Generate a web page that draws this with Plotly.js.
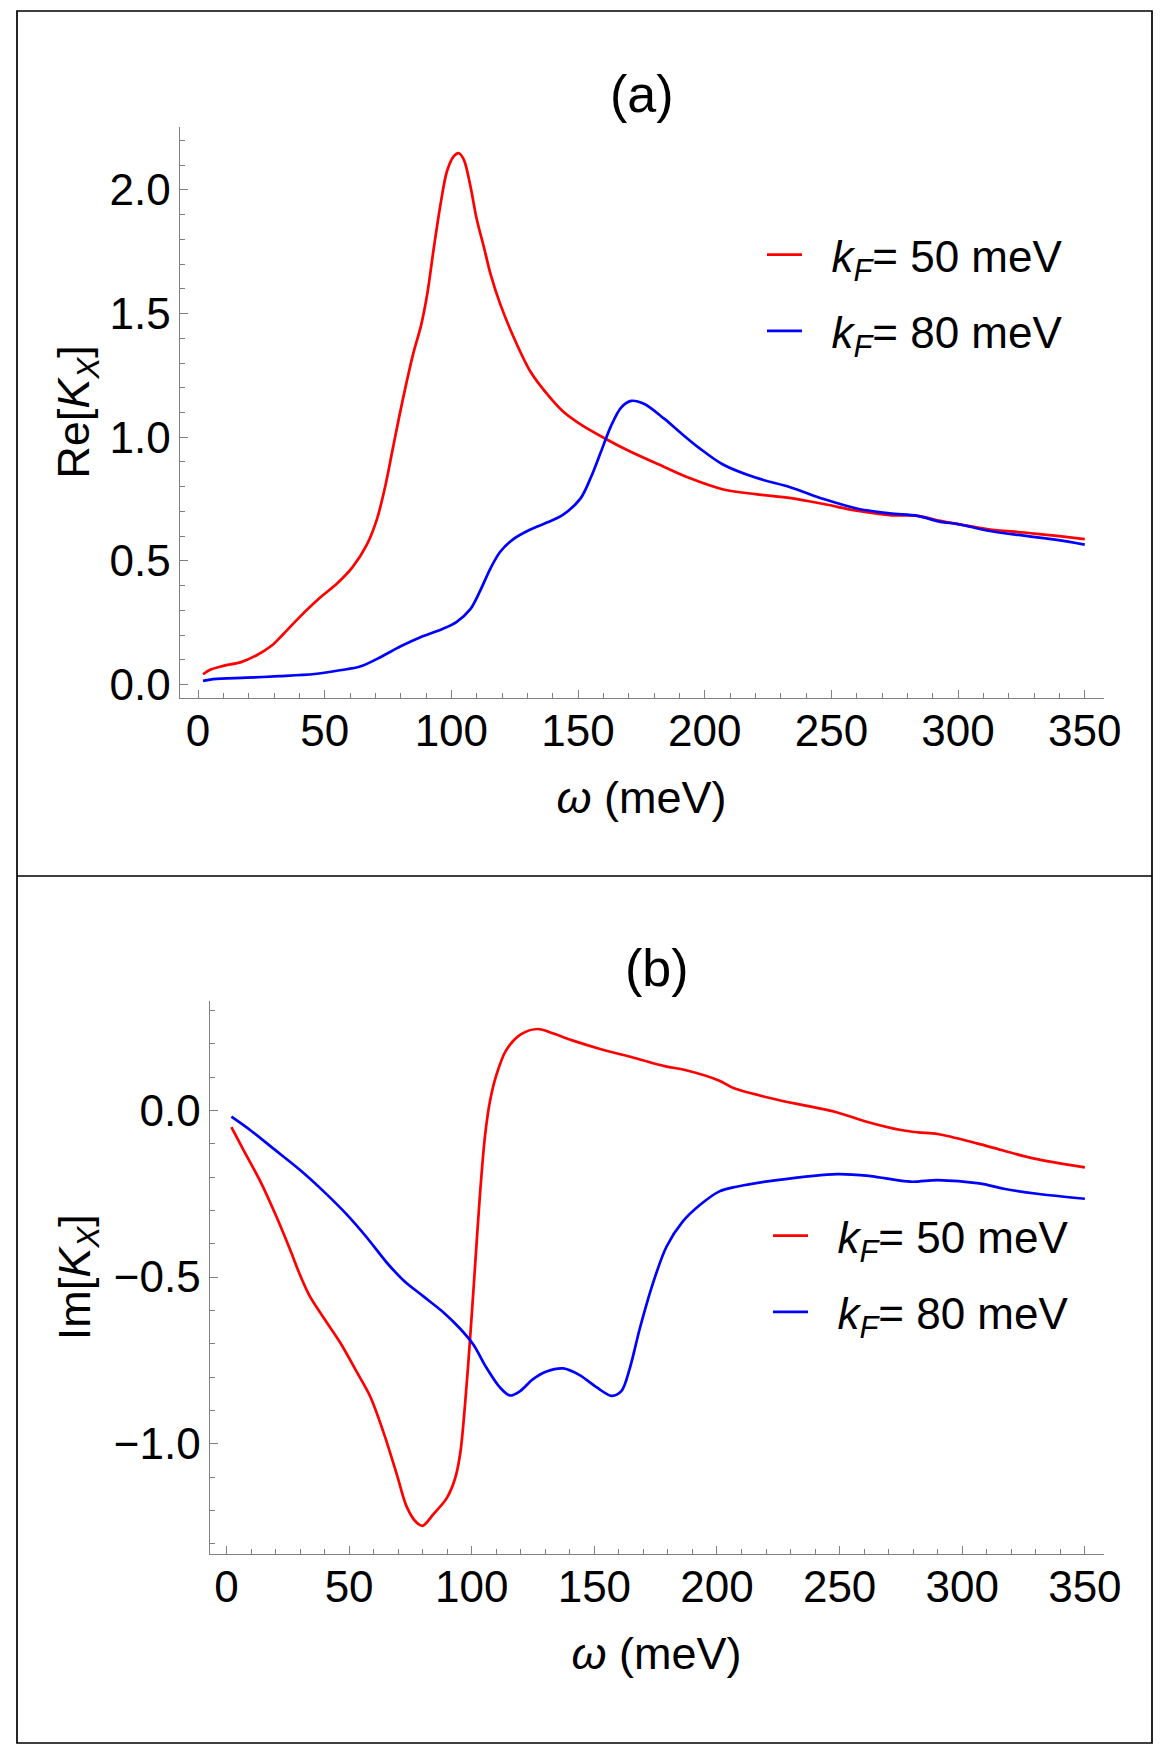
<!DOCTYPE html>
<html>
<head>
<meta charset="utf-8">
<script src="https://cdn.plot.ly/plotly-3.0.1.min.js"></script>
<style>
  html, body { margin: 0; padding: 0; background: #ffffff; }
  #plot { width: 1173px; height: 1757px; }
</style>
</head>
<body>
<div id="plot"></div>
<script>
// Re[K_X] versus ω for k_F = 50 meV
const omegaRe50 = [2, 5, 10, 17, 23, 29, 34, 40, 48, 55, 61, 66.7, 70.7, 74, 77, 81, 85, 88, 90.5, 93, 95.7, 98.3, 101, 103, 105, 107.5, 110, 113, 115.5, 119.3, 124.6, 131, 138, 144, 151, 161, 171, 184, 194, 207, 220, 234, 247, 260, 273, 284, 293, 300, 312, 326, 339, 350];
const re50 = [0.042, 0.061, 0.076, 0.091, 0.118, 0.157, 0.208, 0.272, 0.35, 0.41, 0.475, 0.567, 0.671, 0.806, 0.96, 1.16, 1.34, 1.45, 1.58, 1.76, 1.94, 2.076, 2.136, 2.148, 2.12, 2.016, 1.882, 1.762, 1.658, 1.538, 1.404, 1.269, 1.172, 1.105, 1.052, 0.993, 0.94, 0.88, 0.835, 0.79, 0.77, 0.754, 0.73, 0.703, 0.685, 0.682, 0.662, 0.649, 0.628, 0.615, 0.601, 0.588];

// Re[K_X] versus ω for k_F = 80 meV
const omegaRe80 = [2, 6, 19, 32, 46, 56, 64, 72, 80, 88, 96, 102, 107.5, 111.4, 115.4, 119.3, 124.6, 131, 138, 144, 151, 155, 159, 163, 167, 171, 176, 184, 190, 198, 207, 220, 234, 247, 260, 273, 284, 293, 300, 312, 326, 339, 350];
const re80 = [0.015, 0.022, 0.028, 0.034, 0.043, 0.058, 0.073, 0.111, 0.155, 0.193, 0.223, 0.253, 0.305, 0.38, 0.469, 0.537, 0.589, 0.626, 0.656, 0.686, 0.753, 0.836, 0.94, 1.045, 1.12, 1.147, 1.135, 1.075, 1.022, 0.955, 0.891, 0.837, 0.797, 0.75, 0.712, 0.692, 0.682, 0.658, 0.649, 0.622, 0.602, 0.585, 0.566];

// Im[K_X] versus ω for k_F = 50 meV
const omegaIm50 = [2, 7, 14, 20.6, 26, 30, 34, 39.6, 46.4, 53, 58.6, 64, 69.5, 73.5, 77.6, 80, 84.4, 89.8, 93.2, 95.3, 97.3, 99.3, 101.4, 103.4, 105.4, 107.5, 110, 114, 120, 127, 133, 141, 152, 166, 179, 187, 201, 207, 225, 248, 261, 275, 282, 290, 306, 316, 329, 350];
const im50 = [-0.05, -0.12, -0.216, -0.323, -0.419, -0.494, -0.558, -0.622, -0.697, -0.783, -0.858, -0.965, -1.093, -1.189, -1.237, -1.246, -1.211, -1.163, -1.104, -1.029, -0.879, -0.687, -0.462, -0.248, -0.077, 0.03, 0.105, 0.18, 0.228, 0.244, 0.231, 0.21, 0.185, 0.158, 0.132, 0.121, 0.089, 0.066, 0.031, -0.004, -0.034, -0.059, -0.066, -0.071, -0.099, -0.119, -0.144, -0.171];

// Im[K_X] versus ω for k_F = 80 meV
const omegaIm80 = [2, 10, 19, 30, 39.6, 49, 57.3, 65.4, 72.2, 80.3, 88.5, 95.3, 100.7, 106, 111.5, 115.6, 119.7, 125, 130.5, 137.3, 144, 151, 157, 161, 164.5, 168.5, 174, 179.4, 186, 193, 201, 208, 224.5, 249, 262.5, 279, 290, 307, 317, 330.5, 350];
const im80 = [-0.019, -0.061, -0.114, -0.179, -0.243, -0.312, -0.382, -0.457, -0.51, -0.558, -0.606, -0.655, -0.703, -0.772, -0.831, -0.855, -0.842, -0.806, -0.783, -0.774, -0.794, -0.831, -0.856, -0.842, -0.772, -0.655, -0.516, -0.409, -0.334, -0.284, -0.243, -0.229, -0.209, -0.191, -0.197, -0.214, -0.209, -0.219, -0.235, -0.25, -0.265];

// Series labels, panel titles and axis titles
const seriesNames = ['<i>k</i><sub><i>F</i></sub>= 50 meV', '<i>k</i><sub><i>F</i></sub>= 80 meV'];
const panelTitles = ['(a)', '(b)'];
const xTitle = '<i>ω</i> (meV)';
const yTitles = ['Re[<i>K</i><sub><i>X</i></sub>]', 'Im[<i>K</i><sub><i>X</i></sub>]'];

const W = 1173, H = 1757;
const FONT = 'Liberation Sans, Arial, sans-serif';
const TICK_SIZE = 44, TITLE_SIZE = 45, PANEL_SIZE = 52;
const AXIS_GRAY = '#808080';
const RED = '#ff0000', BLUE = '#0000ff';
const LEGEND_GAP = '\u00a0\u00a0';

// pixel -> paper helpers for placing panels
const px = v => v / W;
const py = v => 1 - v / H;

function line(x, y, color, name, xa, ya, leg, grp) {
  return {
    x: x, y: y, type: 'scatter', mode: 'lines', name: LEGEND_GAP + name,
    xaxis: xa, yaxis: ya, legend: leg, legendgroup: grp,
    line: { color: color, width: 2.7, shape: 'spline', smoothing: 0.9 },
    hoverinfo: 'skip'
  };
}

const traces = [
  line(omegaRe50, re50, RED, seriesNames[0], 'x', 'y', 'legend', 'a1'),
  line(omegaRe80, re80, BLUE, seriesNames[1], 'x', 'y', 'legend', 'a2'),
  line(omegaIm50, im50, RED, seriesNames[0], 'x2', 'y2', 'legend2', 'b1'),
  line(omegaIm80, im80, BLUE, seriesNames[1], 'x2', 'y2', 'legend2', 'b2')
];

function xAxis(domain, range, anchor) {
  return {
    domain: domain, range: range, anchor: anchor,
    showline: true, linecolor: AXIS_GRAY, linewidth: 1,
    showgrid: false, zeroline: false,
    ticks: 'inside', ticklen: 8, tickwidth: 1, tickcolor: AXIS_GRAY,
    tick0: 0, dtick: 50,
    minor: { ticks: 'inside', dtick: 10, ticklen: 5, tickwidth: 1, tickcolor: AXIS_GRAY, showgrid: false },
    tickfont: { family: FONT, size: TICK_SIZE, color: '#000' },
    ticklabelstandoff: -5,
    title: { text: xTitle, font: { family: FONT, size: TITLE_SIZE, color: '#000' }, standoff: 27 }
  };
}

function yAxis(domain, range, anchor, title, standoff) {
  return {
    domain: domain, range: range, anchor: anchor,
    showline: true, linecolor: AXIS_GRAY, linewidth: 1,
    showgrid: false, zeroline: false,
    ticks: 'inside', ticklen: 8, tickwidth: 1, tickcolor: AXIS_GRAY,
    tick0: 0, dtick: 0.5, tickformat: '.1f',
    minor: { ticks: 'inside', dtick: 0.1, ticklen: 5, tickwidth: 1, tickcolor: AXIS_GRAY, showgrid: false },
    tickfont: { family: FONT, size: TICK_SIZE, color: '#000' },
    ticklabelstandoff: -1,
    title: { text: title, font: { family: FONT, size: TITLE_SIZE, color: '#000' }, standoff: standoff }
  };
}

function legendAt(x, y) {
  return {
    x: x, y: y, xanchor: 'left', yanchor: 'top',
    bgcolor: 'rgba(0,0,0,0)', borderwidth: 0,
    font: { family: FONT, size: TICK_SIZE, color: '#000' },
    itemwidth: 35, tracegroupgap: 16, traceorder: 'grouped'
  };
}

const layout = {
  width: W, height: H, autosize: false,
  margin: { l: 0, r: 0, t: 0, b: 0, pad: 0 },
  paper_bgcolor: '#ffffff', plot_bgcolor: '#ffffff',
  font: { family: FONT, size: TICK_SIZE, color: '#000' },
  showlegend: true,
  xaxis: xAxis([px(179.5), px(1103.5)], [-7.3, 357.4], 'y'),
  yaxis: yAxis([py(697.5), py(126.5)], [-0.052, 2.256], 'x', yTitles[0], 5),
  xaxis2: xAxis([px(209.5), px(1103.5)], [-6.93, 357.6], 'y2'),
  yaxis2: yAxis([py(1553.5), py(1001)], [-1.329, 0.328], 'x2', yTitles[1], 9),
  legend: legendAt(px(762), py(219.5)),
  legend2: legendAt(px(768), py(1200.5)),
  annotations: [
    { text: panelTitles[0], xref: 'paper', yref: 'paper', x: px(641.5), y: py(94),
      xanchor: 'center', yanchor: 'middle', showarrow: false,
      font: { family: FONT, size: PANEL_SIZE, color: '#000' } },
    { text: panelTitles[1], xref: 'paper', yref: 'paper', x: px(656.5), y: py(968),
      xanchor: 'center', yanchor: 'middle', showarrow: false,
      font: { family: FONT, size: PANEL_SIZE, color: '#000' } }
  ],
  shapes: [
    // outer frame
    { type: 'rect', xref: 'paper', yref: 'paper', x0: px(17), x1: px(1152), y0: py(1743), y1: py(11),
      line: { color: '#000', width: 1.7 }, fillcolor: 'rgba(0,0,0,0)' },
    // divider between the two panels
    { type: 'line', xref: 'paper', yref: 'paper', x0: px(17), x1: px(1152), y0: py(876), y1: py(876),
      line: { color: '#000', width: 1.3 } }
  ]
};

Plotly.newPlot('plot', traces, layout, { staticPlot: true, displayModeBar: false });
</script>
</body>
</html>
